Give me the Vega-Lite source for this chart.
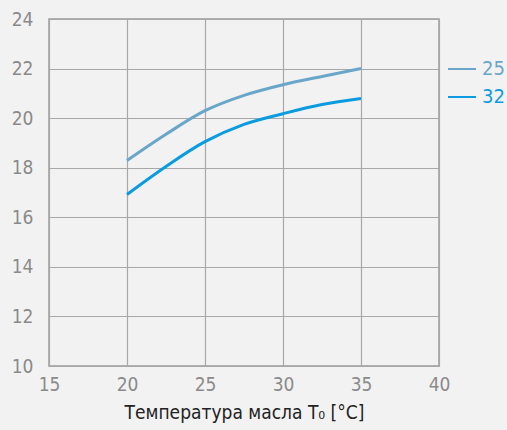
{
  "$schema": "https://vega.github.io/schema/vega-lite/v6.json",
  "width": 390,
  "height": 347,
  "autosize": {"type": "none"},
  "padding": {"left": 49, "top": 19, "right": 68, "bottom": 64},
  "background": "#f2f2f2",
  "config": {
    "font": "DejaVu Sans Condensed, Roboto",
    "view": {"stroke": "#9a9a9a", "strokeWidth": 1.5, "fill": "#f2f2f2"},
    "axis": {"gridColor": "#a8a8a8", "gridWidth": 1.2, "gridOpacity": 1, "domain": false, "ticks": false, "labelColor": "#8a8a8a", "labelFontSize": 19, "labelFont": "DejaVu Sans Condensed, Roboto"}
  },
  "data": {"values": [
    {"t": 20, "v": 18.29, "s": "25"},
    {"t": 22.5, "v": 19.35, "s": "25"},
    {"t": 25, "v": 20.3, "s": "25"},
    {"t": 27.5, "v": 20.92, "s": "25"},
    {"t": 30, "v": 21.35, "s": "25"},
    {"t": 32.5, "v": 21.68, "s": "25"},
    {"t": 35, "v": 22.0, "s": "25"},
    {"t": 20, "v": 16.92, "s": "32"},
    {"t": 22.5, "v": 18.05, "s": "32"},
    {"t": 25, "v": 19.05, "s": "32"},
    {"t": 27.5, "v": 19.75, "s": "32"},
    {"t": 30, "v": 20.18, "s": "32"},
    {"t": 32.5, "v": 20.55, "s": "32"},
    {"t": 35, "v": 20.79, "s": "32"}
  ]},
  "mark": {"type": "line", "interpolate": "catmull-rom", "strokeWidth": 3},
  "encoding": {
    "x": {"field": "t", "type": "quantitative", "scale": {"domain": [15, 40], "nice": false, "zero": false},
      "axis": {"values": [15, 20, 25, 30, 35, 40], "labelFlush": false, "labelPadding": 9, "title": "Температура масла T₀ [°C]", "titleFontSize": 19, "titleFontWeight": "normal", "titleColor": "#222222", "titlePadding": 9, "titleFont": "DejaVu Sans Condensed, Roboto"}},
    "y": {"field": "v", "type": "quantitative", "scale": {"domain": [10, 24], "nice": false, "zero": false},
      "axis": {"values": [10, 12, 14, 16, 18, 20, 22, 24], "labelPadding": 16, "title": null}},
    "color": {"field": "s", "type": "nominal", "scale": {"domain": ["25", "32"], "range": ["#6aa6c9", "#0a9be0"]},
      "legend": {"orient": "none", "legendX": 398, "legendY": 35, "title": null, "symbolType": "stroke", "symbolSize": 784, "symbolStrokeWidth": 2, "labelFontSize": 20, "labelOffset": 5, "rowPadding": 3, "labelFont": "DejaVu Sans Condensed, Roboto",
        "encode": {"labels": {"update": {"fill": {"signal": "datum.label == '25' ? '#6aa6c9' : '#0a9be0'"}}}}}}
  }
}
